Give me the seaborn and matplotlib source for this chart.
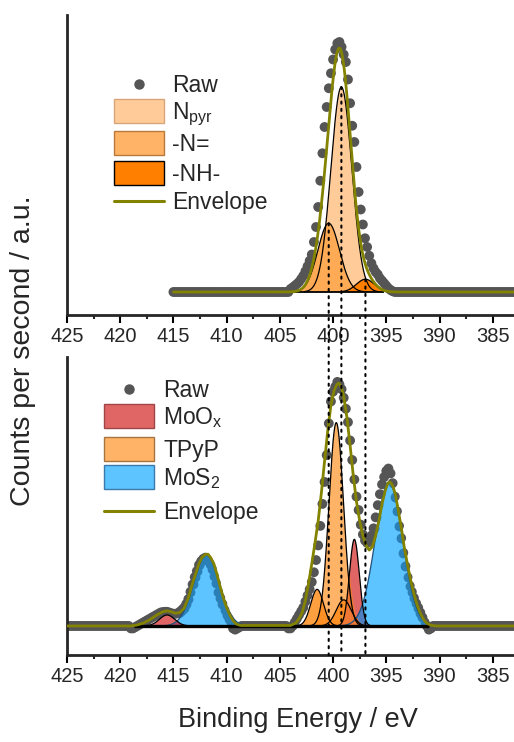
import numpy as np
import pandas as pd
import matplotlib
matplotlib.use("Agg")
import matplotlib.pyplot as plt
import seaborn as sns
from matplotlib.patches import ConnectionPatch, Rectangle
from matplotlib.lines import Line2D

# ---------------- data ----------------
# Top panel: fitted components (N 1s of TPyP)
top_names = ["N$_{pyr}$", "-N=", "-NH-"]
top_centers = [399.22, 400.41, 396.96]
top_heights = [0.82, 0.275, 0.051]
top_sigmas = [0.98, 1.02, 0.85]

# Top panel raw data (peak region, 404.0 -> 394.4 eV, 0.2 eV steps); flat 0 elsewhere
top_raw_counts = [0.012, 0.018, 0.025, 0.032, 0.040, 0.052, 0.065, 0.083, 0.103, 0.125,
                  0.150, 0.20, 0.26, 0.34, 0.445, 0.555, 0.66, 0.74, 0.815, 0.875,
                  0.93, 0.97, 0.995, 1.00, 0.98, 0.95, 0.92, 0.85, 0.755, 0.665,
                  0.60, 0.50, 0.40, 0.33, 0.27, 0.215, 0.18, 0.145, 0.115, 0.095,
                  0.08, 0.07, 0.055, 0.045, 0.035, 0.025, 0.015, 0.008, 0.003]

# Bottom panel: fitted components
bot_names = ["MoO$_x$", "TPyP", "MoS$_2$"]
moox_centers = [415.6, 398.0]
moox_heights = [0.045, 0.355]
moox_sigmas = [0.72, 0.46]
tpyp_centers = [401.5, 399.7, 399.0]
tpyp_heights = [0.15, 0.833, 0.107]
tpyp_sigmas = [0.6, 0.68, 0.7]
mos2_centers = [411.9, 394.75]
mos2_heights = [0.29, 0.59]
mos2_sigmas = [1.2, 1.28]

# Bottom raw data: region A (419.0 -> 408.8 eV) and region B (404.2 -> 390.8 eV), 0.2 eV steps
bot_raw_counts_a = [-0.01, -0.01, -0.005, 0.0, 0.005, 0.01, 0.015, 0.02, 0.025, 0.03,
                    0.035, 0.04, 0.045, 0.05, 0.055, 0.057, 0.058, 0.058, 0.055, 0.052,
                    0.05, 0.05, 0.052, 0.058, 0.066, 0.075, 0.09, 0.11, 0.14, 0.17,
                    0.20, 0.225, 0.25, 0.265, 0.275, 0.28, 0.27, 0.255, 0.235, 0.205,
                    0.175, 0.14, 0.115, 0.09, 0.065, 0.045, 0.03, 0.015, -0.01, -0.015,
                    -0.01, -0.005]
bot_raw_counts_b = [-0.01, -0.01, 0.0, 0.015, 0.03, 0.045, 0.06, 0.075, 0.10, 0.125,
                    0.15, 0.18, 0.22, 0.27, 0.33, 0.41, 0.50, 0.59, 0.70, 0.83,
                    0.92, 0.96, 0.98, 1.00, 0.99, 0.97, 0.935, 0.89, 0.835, 0.76,
                    0.68, 0.60, 0.53, 0.475, 0.415, 0.375, 0.35, 0.34, 0.345, 0.37,
                    0.40, 0.445, 0.495, 0.54, 0.58, 0.61, 0.635, 0.645, 0.625, 0.585,
                    0.53, 0.47, 0.41, 0.36, 0.30, 0.245, 0.20, 0.165, 0.14, 0.115,
                    0.093, 0.075, 0.055, 0.035, 0.015, 0.0, -0.015, -0.01]

# Bottom envelope (read points)
bot_env_E = [425.0, 419.0, 418.4, 417.8, 417.2, 416.6, 416.0, 415.6, 415.2, 414.8, 414.4,
             414.0, 413.6, 413.2, 412.9, 412.6, 412.3, 412.0, 411.75, 411.5, 411.2, 410.9,
             410.6, 410.3, 410.0, 409.7, 409.4, 409.1, 408.7, 404.0, 403.5, 403.2, 402.9,
             402.6, 402.3, 402.0, 401.7, 401.4, 401.1, 400.8, 400.5, 400.2, 399.9, 399.65,
             399.45, 399.2, 399.0, 398.7, 398.4, 398.1, 397.8, 397.5, 397.2, 396.9, 396.6,
             396.3, 396.0, 395.7, 395.4, 395.1, 394.85, 394.65, 394.4, 394.15, 393.9, 393.6,
             393.3, 393.0, 392.7, 392.4, 392.1, 391.8, 391.5, 391.2, 390.8, 390.3, 383.0]
bot_env_h = [0.0, 0.0, 0.004, 0.012, 0.026, 0.044, 0.058, 0.062, 0.058, 0.052, 0.055,
             0.072, 0.115, 0.175, 0.215, 0.255, 0.282, 0.293, 0.294, 0.28, 0.255, 0.21,
             0.16, 0.113, 0.075, 0.045, 0.022, 0.008, 0.002, 0.002, 0.012, 0.03, 0.055,
             0.105, 0.175, 0.255, 0.34, 0.43, 0.545, 0.675, 0.80, 0.905, 0.965, 0.99,
             0.995, 0.975, 0.94, 0.855, 0.74, 0.615, 0.51, 0.43, 0.37, 0.33, 0.311,
             0.325, 0.37, 0.43, 0.50, 0.555, 0.585, 0.59, 0.575, 0.54, 0.48, 0.405,
             0.32, 0.25, 0.185, 0.13, 0.085, 0.052, 0.027, 0.011, 0.003, 0.0, 0.0]

xticks = [425, 420, 415, 410, 405, 400, 395, 390, 385]

# ---------------- style ----------------
sns.set_style("ticks")
plt.rcParams["font.family"] = ["Liberation Sans", "DejaVu Sans"]
plt.rcParams["mathtext.fontset"] = "custom"
plt.rcParams["mathtext.rm"] = "Liberation Sans"
plt.rcParams["mathtext.it"] = "Liberation Sans:italic"
plt.rcParams["mathtext.default"] = "regular"

RAW_C = "#555555"
ENV_C = "#838300"
C_NPYR, C_NEQ, C_NH = "#FFCC99", "#FFB366", "#FF8000"
C_NEQ_FILL = "#FFAA55"
C_MOOX, C_TPYP, C_MOS2 = "#E06666", "#FFB366", "#5EC4FF"
C_TPYP_SMALL = "#FFA040"
C_OV_MOS2_MOOX = "#4F7FBF"
C_OV_TPYP_MOOX = "#EE7834"
C_OV_TPYP = "#FF9025"
C_OV_SMALL = "#A84A6A"
C_DOT_IN_BLUE = "#2A7FB6"

W, H = 514, 742
fig = plt.figure(figsize=(W / 100, H / 100), dpi=100)
L = 67 / W
ax1 = fig.add_axes([L, 1 - 315 / H, 1 - L, 300 / H])
ax2 = fig.add_axes([L, 1 - 655 / H, 1 - L, 298 / H])
ylim1 = (-0.092, 1.108)
ylim2 = (-0.119, 1.102)

E = np.linspace(425.5, 382.5, 2400)


def gauss(x, c, h, s):
    return h * np.exp(-(x - c) ** 2 / (2 * s ** 2))


def fill(ax, y, color, z, thr=0.0015):
    m = y > thr
    return ax.fill_between(E[m], 0, y[m], facecolor=color, edgecolor="none", lw=0, zorder=z)


def outline(ax, y, color, z, thr=0.0015):
    m = y > thr
    ax.plot(E[m], y[m], color=color, lw=0.9, zorder=z)


# ---- top panel ----
top_E = np.round(np.linspace(415.0, 382.8, 162), 1)
top_y = np.zeros_like(top_E)
peak_E = np.round(np.linspace(404.0, 394.4, len(top_raw_counts)), 1)
for e, v in zip(peak_E, top_raw_counts):
    top_y[np.isclose(top_E, e)] = v
df_top = pd.DataFrame({"E": top_E, "counts": top_y})
sns.scatterplot(data=df_top, x="E", y="counts", ax=ax1, color=RAW_C, s=50,
                edgecolor="none", zorder=2, legend=False)

top_comp = [gauss(E, c, h, s) for c, h, s in zip(top_centers, top_heights, top_sigmas)]
for y, col, z in zip(top_comp, [C_NPYR, C_NEQ_FILL, C_NH], [3.0, 3.1, 3.2]):
    fill(ax1, y, col, z)
for y in top_comp:
    outline(ax1, y, "black", 3.5)
ax1.hlines(0, 403.9, 395.2, color="black", lw=1.3, zorder=3.6)
env_top = np.sum(top_comp, axis=0)
mE = E <= 415.0
df_env_top = pd.DataFrame({"E": E[mE], "env": env_top[mE]})
sns.lineplot(data=df_env_top, x="E", y="env", ax=ax1, color=ENV_C, lw=2.0,
             sort=False, estimator=None, zorder=5)

# ---- bottom panel ----
bot_E = np.round(np.linspace(425.4, 382.8, 214), 1)
bot_y = np.zeros_like(bot_E)
ea = np.round(np.linspace(419.0, 408.8, len(bot_raw_counts_a)), 1)
eb = np.round(np.linspace(404.2, 390.8, len(bot_raw_counts_b)), 1)
for e, v in zip(np.concatenate([ea, eb]), bot_raw_counts_a + bot_raw_counts_b):
    bot_y[np.isclose(bot_E, e)] = v
df_bot = pd.DataFrame({"E": bot_E, "counts": bot_y})
sns.scatterplot(data=df_bot, x="E", y="counts", ax=ax2, color=RAW_C, s=50,
                edgecolor="none", zorder=2, legend=False)

mos2_y = [gauss(E, c, h, s) for c, h, s in zip(mos2_centers, mos2_heights, mos2_sigmas)]
moox_y = [gauss(E, c, h, s) for c, h, s in zip(moox_centers, moox_heights, moox_sigmas)]
tpyp_y = [gauss(E, c, h, s) for c, h, s in zip(tpyp_centers, tpyp_heights, tpyp_sigmas)]

for y in mos2_y:
    poly = fill(ax2, y, C_MOS2, 3.0)
    # raw points lying under the blue fill show through darker
    sc = ax2.scatter(bot_E, bot_y, s=50, color=C_DOT_IN_BLUE, lw=0, zorder=3.02)
    sc.set_clip_path(poly.get_paths()[0], ax2.transData)
for y in moox_y:
    fill(ax2, y, C_MOOX, 3.1)
fill(ax2, np.minimum(moox_y[1], mos2_y[1]), C_OV_MOS2_MOOX, 3.12)
fill(ax2, np.minimum(moox_y[0], mos2_y[0]), C_OV_SMALL, 3.12)
fill(ax2, tpyp_y[1], C_TPYP, 3.2)
fill(ax2, tpyp_y[0], C_TPYP_SMALL, 3.22)
fill(ax2, tpyp_y[2], C_TPYP_SMALL, 3.22)
fill(ax2, np.minimum(tpyp_y[2], tpyp_y[1]), C_OV_TPYP, 3.24)
fill(ax2, np.minimum(tpyp_y[0], tpyp_y[1]), C_OV_TPYP, 3.24)
fill(ax2, np.minimum(moox_y[1], tpyp_y[1] + tpyp_y[2]), C_OV_TPYP_MOOX, 3.26)
for y in mos2_y:
    outline(ax2, y, "#1f4f7a", 3.5)
for y in moox_y + tpyp_y:
    outline(ax2, y, "black", 3.5)
ax2.hlines(0, 418.7, 391.0, color="black", lw=2.4, zorder=3.6)
df_env_bot = pd.DataFrame({"E": bot_env_E, "env": bot_env_h})
sns.lineplot(data=df_env_bot, x="E", y="env", ax=ax2, color=ENV_C, lw=2.0,
             sort=False, estimator=None, zorder=5)

# ---- axes formatting ----
for ax, yl in ((ax1, ylim1), (ax2, ylim2)):
    ax.set_xlim(425, 383)
    ax.set_ylim(*yl)
    ax.set_xticks(xticks)
    ax.set_xticks(np.arange(422.5, 383, -5), minor=True)
    ax.set_yticks([])
    ax.set_xlabel("")
    ax.set_ylabel("")
    for sp in ("top", "right"):
        ax.spines[sp].set_visible(False)
    for sp in ("left", "bottom"):
        ax.spines[sp].set_linewidth(2.0)
    ax.tick_params(axis="x", which="major", direction="out", length=6, width=1.5,
                   labelsize=14.5, pad=3, color="black")
    ax.tick_params(axis="x", which="minor", direction="out", length=3, width=1.5)
    ax.patch.set_alpha(0)

# dotted guide lines from the top components down to the bottom axis
for c, h in zip(top_centers, top_heights):
    con = ConnectionPatch(xyA=(c, h), coordsA=ax1.transData,
                          xyB=(c, ylim2[0]), coordsB=ax2.transData,
                          color="black", lw=1.5, linestyle=(0, (1, 2.5)), zorder=10)
    fig.add_artist(con)

# ---- legends (drawn row by row in figure pixels) ----
LEG_FS = 16.5
CAP = 0.716 * LEG_FS * 100 / 72


def fx(x):
    return x / W


def fy(y):
    return 1 - y / H


def legend_rows(rows, x0, x1, tx):
    for kind, y, label, fc, ec in rows:
        if kind == "dot":
            fig.add_artist(Line2D([fx((x0 + x1) / 2)], [fy(y)], marker="o", ls="",
                                  color=fc, markersize=6.5, transform=fig.transFigure))
        elif kind == "patch":
            fig.add_artist(Rectangle((fx(x0), fy(y + 12)), (x1 - x0) / W, 24 / H,
                                     facecolor=fc, edgecolor=ec, lw=1.0,
                                     transform=fig.transFigure))
        else:
            fig.add_artist(Line2D([fx(x0), fx(x1)], [fy(y), fy(y)], color=fc, lw=2.2,
                                  transform=fig.transFigure))
        fig.text(fx(tx), fy(y + CAP / 2), label, fontsize=LEG_FS, va="baseline",
                 ha="left")


legend_rows([("dot", 84, "Raw", RAW_C, None),
             ("patch", 111, top_names[0], C_NPYR, "#d8a57a"),
             ("patch", 143, top_names[1], C_NEQ, "#b8793a"),
             ("patch", 173, top_names[2], C_NH, "black"),
             ("line", 201, "Envelope", ENV_C, None)], 114, 164, 172)
legend_rows([("dot", 389, "Raw", RAW_C, None),
             ("patch", 416, bot_names[0], C_MOOX, "#a04545"),
             ("patch", 449, bot_names[1], C_TPYP, "#a87440"),
             ("patch", 477, bot_names[2], C_MOS2, "#3a7aaa"),
             ("line", 511, "Envelope", ENV_C, None)], 104, 154, 163)

fig.text(23 / W, 1 - 351 / H, "Counts per second / a.u.", rotation=90,
         ha="center", va="center", fontsize=20.5)
fig.text(298 / W, 1 - 720 / H, "Binding Energy / eV", ha="center", va="center",
         fontsize=19.5)

fig.savefig("out.png", dpi=100)
